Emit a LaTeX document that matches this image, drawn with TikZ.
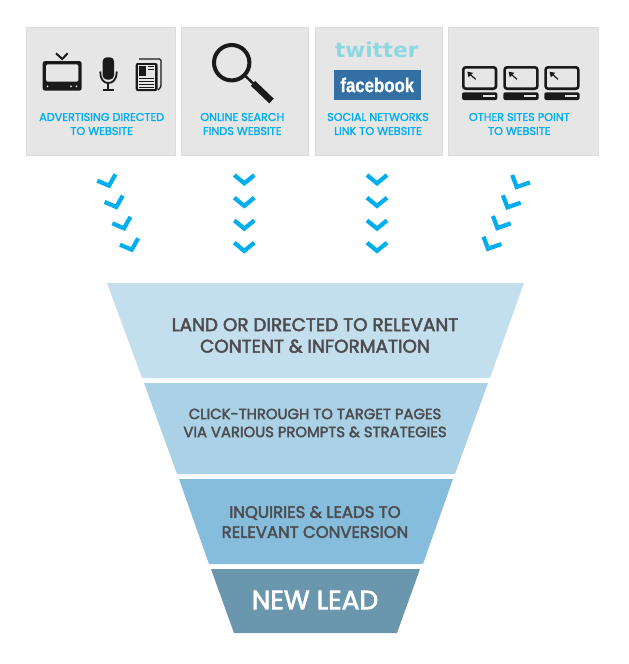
\documentclass[tikz,border=0pt]{standalone}
\usepackage{fontspec}
\setmainfont{Poppins}
\newfontfamily\funnelfont[FakeBold=2.6]{Poppins}
\newfontfamily\panelfont[FakeBold=1.8]{Poppins}
\newfontfamily\birdfont[FakeStretch=1.05]{DejaVu Sans}
\newfontfamily\facefont[FakeStretch=0.84,FakeBold=0.6]{Liberation Sans}
\usetikzlibrary{arrows.meta}

\definecolor{panelgray}{HTML}{E6E6E6}
\definecolor{panelline}{HTML}{DCDCDC}
\definecolor{linkblue}{HTML}{00AEEF}
\definecolor{iconblack}{HTML}{1A1A1A}
\definecolor{funnelink}{HTML}{4D4D4F}
\definecolor{stageone}{HTML}{C3DEED}
\definecolor{stagetwo}{HTML}{ABD1E7}
\definecolor{stagethree}{HTML}{86BCDC}
\definecolor{stagefour}{HTML}{6A96AE}
\definecolor{twittercyan}{HTML}{8DD7E3}
\definecolor{facebookblue}{HTML}{336FA3}

\tikzset{
    panel/.style={fill=panelgray,draw=panelline,line width=1pt},
    panellabel/.style={text=linkblue,align=center,font=\panelfont\fontsize{11.2}{14}\selectfont,inner sep=0pt},
    stagelabel/.style={text=funnelink,align=center,inner sep=0pt},
    chevron/.style={draw=linkblue,line width=4.2pt}
}

\begin{document}
\begin{tikzpicture}[
    x=1pt,
    y=-1pt,
    line cap=butt,
    line join=miter
]
\useasboundingbox (0,0) rectangle (629,664);

% Source panels
\draw[panel] (26.5,27.5) rectangle (175,155);
\draw[panel] (181.5,27.5) rectangle (308,155);
\draw[panel] (315.5,27.5) rectangle (442.5,155);
\draw[panel] (448.5,27.5) rectangle (598,155);

% Television
\draw[iconblack,line width=2pt] (56,53.3) -- (62.3,59) -- (67.7,53.3);
\fill[iconblack,rounded corners=2.5pt] (42.7,61) rectangle (81.7,90.7);
\fill[panelgray,rounded corners=1.5pt] (46,64.3) rectangle (78.4,81.7);
\foreach \xdot in {47.5,71,76.5}
    \fill[panelgray] (\xdot,86.3) circle (1pt);

% Microphone
\fill[iconblack,rounded corners=4pt] (102.7,57.3) rectangle (114,79.5);
\draw[iconblack,line width=1.8pt] (100.3,71.5) .. controls (100.3,80) and (104,83) .. (108.3,83)
    .. controls (112.6,83) and (116.7,80) .. (116.7,71.5);
\draw[iconblack,line width=1.8pt] (108.3,83) -- (108.3,90);
\draw[iconblack,line width=1.8pt] (102.7,90) -- (114,90);

% Newspaper
\draw[iconblack,line width=1.4pt,rounded corners=1.5pt] (139,59) -- (161,59) -- (161,87) -- (158,90);
\fill[iconblack,rounded corners=2pt] (135.7,63) rectangle (157.5,91);
\fill[panelgray] (138,65) rectangle (155.2,88.8);
\fill[iconblack] (139.3,66) rectangle (146,76);
\foreach \yline in {66.5,69.5}
    \draw[iconblack,line width=1pt] (148,\yline) -- (154,\yline);
\foreach \yline in {78.5,81.5,84.5,87}
    \draw[iconblack,line width=1pt] (139.3,\yline) -- (154,\yline);

% Magnifying glass
\draw[iconblack,line width=4pt] (231.7,62.7) circle (17.7);
\draw[iconblack,line width=2.4pt] (245,75.7) -- (254,84.2);
\draw[iconblack,line width=6.5pt] (253,83.3) -- (271.5,101);

% Logos
\node[text=twittercyan,inner sep=0pt,font=\birdfont\bfseries\fontsize{20.5}{21}\selectfont] (twitterlogo) at (376.8,49.5) {twitter};
\node[fill=facebookblue,text=white,inner sep=0pt,minimum width=86.7pt,minimum height=30pt,font=\facefont\bfseries\fontsize{20}{20}\selectfont] (facebooklogo) at (377.3,85) {facebook};

% Laptops
\foreach \xlap in {462,503.3,544.3} {
    \draw[iconblack,line width=2.6pt,rounded corners=2.5pt] (\xlap+1.3,67.3) rectangle (\xlap+34,88.7);
    \fill[iconblack,rounded corners=2pt] (\xlap,92.3) rectangle (\xlap+35.3,100);
    \fill[panelgray] (\xlap+21,95.2) rectangle (\xlap+33,97.2);
    \draw[iconblack,line width=1.2pt] (\xlap+7,73.5) -- (\xlap+13.7,79.3);
    \fill[iconblack] (\xlap+5.3,71.7) -- (\xlap+11,72.8) -- (\xlap+6.5,77.3) -- cycle;
}

% Panel captions
\node[panellabel] (advertlabel) at (101.7,124) {ADVERTISING DIRECTED\\TO WEBSITE};
\node[panellabel] (searchlabel) at (242.3,124) {ONLINE SEARCH\\FINDS WEBSITE};
\node[panellabel] (sociallabel) at (378,124) {SOCIAL NETWORKS\\LINK TO WEBSITE};
\node[panellabel] (otherlabel) at (519.3,124) {OTHER SITES POINT\\TO WEBSITE};

% Chevrons, straight columns
\foreach \xtip in {244.3,377}
    \foreach \ytip in {185.7,208.3,231,253.3}
        \draw[chevron] (\xtip-10,\ytip-10.6) -- (\xtip,\ytip-2.4) -- (\xtip+10,\ytip-10.6);

% Chevrons, slanted columns
\foreach \xtip/\ytip in {110/187.7,117.3/209,125/230.3,132.7/251.7}
    \draw[chevron] (\xtip-12.7,\ytip-7) -- (\xtip-1,\ytip-2) -- (\xtip+5.5,\ytip-13.4);
\foreach \xtip/\ytip in {516/189,506.7/209.3,496.7/230,487.3/250.7}
    \draw[chevron] (\xtip-3.8,\ytip-14) -- (\xtip+.7,\ytip-2) -- (\xtip+14,\ytip-6.6);

% Funnel stages
\fill[stageone] (107,283) -- (524,283) -- (490,378) -- (142,378) -- cycle;
\fill[stagetwo] (144,383) -- (488,383) -- (455,474) -- (177,474) -- cycle;
\fill[stagethree] (179,479) -- (453,479) -- (423,564) -- (209,564) -- cycle;
\fill[stagefour] (211,569) -- (420,569) -- (397,633) -- (234,633) -- cycle;

% Stage captions
\node[stagelabel,font=\funnelfont\fontsize{18.4}{21.5}\selectfont] (landlabel) at (315,335.5) {LAND OR DIRECTED TO RELEVANT\\CONTENT \& INFORMATION};
\node[stagelabel,font=\funnelfont\fontsize{14.8}{18}\selectfont] (clicklabel) at (315,423) {CLICK-THROUGH TO TARGET PAGES\\VIA VARIOUS PROMPTS \& STRATEGIES};
\node[stagelabel,font=\funnelfont\fontsize{16.5}{20}\selectfont] (inquirylabel) at (315,522) {INQUIRIES \& LEADS TO\\RELEVANT CONVERSION};
\node[stagelabel,text=white,font=\funnelfont\fontsize{26.4}{28}\selectfont] (leadlabel) at (315,600) {NEW LEAD};

\end{tikzpicture}
\end{document}
